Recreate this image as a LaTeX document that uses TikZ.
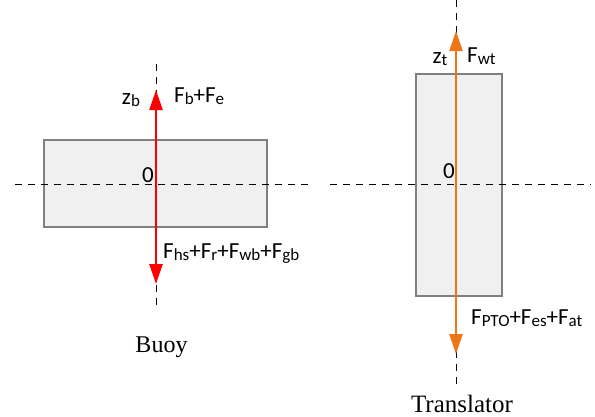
\documentclass[tikz,border=0pt]{standalone}
\usepackage{fontspec}
\setmainfont{Liberation Serif}
\newfontfamily\lab{Carlito}
\newcommand{\lowsub}[1]{\raisebox{-2.5pt}{\fontsize{17}{19}\selectfont #1}}
\usetikzlibrary{arrows.meta}
\begin{document}
\begin{tikzpicture}[x=1pt,y=-1pt,
  axisline/.style={black,line width=0.8pt,dash pattern=on 7pt off 6pt},
  body/.style={draw=black!50,fill=black!6,line width=1.6pt},
  force/.style={line width=2.4pt,-{Triangle[length=20pt,width=13pt]},shorten >=0pt},
  lbl/.style={font=\lab\fontsize{23}{26}\selectfont,inner sep=0pt},
  captext/.style={font=\fontsize{24}{28}\selectfont,inner sep=0pt}]
\definecolor{fred}{RGB}{255,0,0}
\definecolor{forange}{RGB}{237,118,24}
\useasboundingbox (0,0) rectangle (595,416);
% Buoy
\coordinate (bL) at (15,184);
\coordinate (bR) at (313,184);
\coordinate (bT) at (156,64);
\coordinate (bB) at (156,306);
\coordinate (bO) at (156,184);
\coordinate (bUp) at (156,90);
\coordinate (bDn) at (156,284);
\node[body,minimum width=223pt,minimum height=87pt,inner sep=0pt] (buoy) at (155.5,183.5) {};
\draw[axisline] (bL) -- (bR);
\draw[axisline] (bT) -- (bB);
\draw[force,fred] (bO) -- (bUp);
\draw[force,fred] (bO) -- (bDn);
\node[lbl,anchor=base] (zb) at (131,104) {z\lowsub{b}};
\node[lbl,anchor=base west] (fb) at (174,102) {F\lowsub{b}+F\lowsub{e}};
\node[lbl,anchor=base] (ob) at (148,182) {0};
\node[lbl,anchor=base west] (fhs) at (163,258) {F\lowsub{hs}+F\lowsub{r}+F\lowsub{wb}+F\lowsub{gb}};
\node[captext,anchor=base] (buoyl) at (161.5,352) {Buoy};
% Translator
\coordinate (tL) at (330,184);
\coordinate (tR) at (591,184);
\coordinate (tT) at (456,0);
\coordinate (tB) at (456,384);
\coordinate (tO) at (456,184);
\coordinate (tUp) at (456,31);
\coordinate (tDn) at (456,354);
\node[body,minimum width=86pt,minimum height=222pt,inner sep=0pt] (trans) at (459,185) {};
\draw[axisline] (tL) -- (tR);
\draw[axisline] (tT) -- (tB);
\draw[force,forange] (tO) -- (tUp);
\draw[force,forange] (tO) -- (tDn);
\node[lbl,anchor=base] (zt) at (440,63) {z\lowsub{t}};
\node[lbl,anchor=base west] (fwt) at (467,62) {F\lowsub{wt}};
\node[lbl,anchor=base] (ot) at (449,178) {0};
\node[lbl,anchor=base west] (fpto) at (471,324) {F\lowsub{PTO}+F\lowsub{es}+F\lowsub{at}};
\node[captext,anchor=base,font=\fontsize{25}{29}\selectfont] (transl) at (462,412) {Translator};
\end{tikzpicture}
\end{document}
